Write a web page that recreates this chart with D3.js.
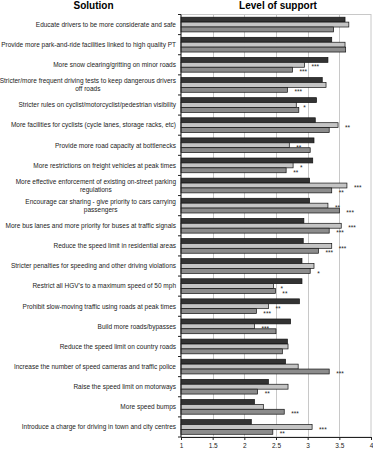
<!DOCTYPE html>
<html>
<head>
<meta charset="utf-8">
<script src="https://cdn.jsdelivr.net/npm/d3@7"></script>
<style>
  html, body { margin: 0; padding: 0; background: #fff; }
  svg { display: block; font-family: "Liberation Sans", Arial, sans-serif; }
</style>
</head>
<body>
<svg id="chart" width="373" height="455"></svg>
<script>
const categories = [
  "Educate drivers to be more considerate and safe",
  "Provide more park-and-ride facilities linked to high quality PT",
  "More snow clearing/gritting on minor roads",
  "Stricter/more frequent driving tests to keep dangerous drivers\noff roads",
  "Stricter rules on cyclist/motorcyclist/pedestrian visibility",
  "More facilities for cyclists (cycle lanes, storage racks, etc)",
  "Provide more road capacity at bottlenecks",
  "More restrictions on freight vehicles at peak times",
  "More effective enforcement of existing on-street parking\nregulations",
  "Encourage car sharing - give priority to cars carrying\npassengers",
  "More bus lanes and more priority for buses at traffic signals",
  "Reduce the speed limit in residential areas",
  "Stricter penalties for speeding and other driving violations",
  "Restrict all HGV's to a maximum speed of 50 mph",
  "Prohibit slow-moving traffic using roads at peak times",
  "Build more roads/bypasses",
  "Reduce the speed limit on country roads",
  "Increase the number of speed cameras and traffic police",
  "Raise the speed limit on motorways",
  "More speed bumps",
  "Introduce a charge for driving in town and city centres"
];
const seriesNames = ["s1", "s2", "s3"];
const s1Values = [3.59,3.38,3.32,3.23,3.14,3.12,3.10,3.08,3.03,3.03,2.94,2.93,2.91,2.91,2.87,2.73,2.68,2.65,2.38,2.16,2.11];
const s2Values = [3.65,3.59,2.95,3.29,2.82,3.48,2.71,2.77,3.62,3.32,3.53,3.38,3.10,2.46,2.38,2.16,2.69,2.85,2.69,2.30,3.07];
const s3Values = [3.41,3.60,2.76,2.68,2.86,3.34,3.04,2.66,3.38,3.50,3.34,3.17,3.04,2.49,2.19,2.50,2.60,3.34,2.21,2.63,2.45];
const s2Stars = ["","","***","","*","**","**","*","***","**","***","***","","*","**","***","","","","","***"];
const s3Stars = ["","","***","***","","","","**","**","***","***","***","*","**","***","","","***","**","***","**"];
const xTicks = [1, 1.5, 2, 2.5, 3, 3.5, 4];
const titleLeft = "Solution";
const titleRight = "Level of support";

const svg = d3.select("#chart");
const plot = { left: 181, right: 371, top: 14.5, bottom: 437 };
const colors = { s1: "#333333", s2: "#c4c4c4", s3: "#8c8c8c" };

const x = d3.scaleLinear().domain([1, 4]).range([plot.left, plot.right]);
const y0 = d3.scaleBand().domain(categories).range([plot.top, plot.bottom]).padding(0);
const y1 = d3.scaleBand().domain(seriesNames).range([0, y0.bandwidth()]).paddingInner(0).paddingOuter(0.55);

const valuesBy = { s1: s1Values, s2: s2Values, s3: s3Values };
const starsBy = { s2: s2Stars, s3: s3Stars };

// titles
svg.append("text").attr("x", 93.5).attr("y", 8.8).attr("text-anchor", "middle")
  .attr("font-size", 10).attr("font-weight", "bold").text(titleLeft);
svg.append("text").attr("x", 278).attr("y", 8.8).attr("text-anchor", "middle")
  .attr("font-size", 10).attr("font-weight", "bold").text(titleRight);

// plot frame and gridlines
svg.append("rect").attr("x", plot.left).attr("y", plot.top)
  .attr("width", plot.right - plot.left).attr("height", plot.bottom - plot.top)
  .attr("fill", "none").attr("stroke", "#c8c8c8").attr("stroke-width", 1);
svg.append("g").selectAll("line").data(xTicks.slice(1, -1)).join("line")
  .attr("x1", d => Math.round(x(d)) + 0.5).attr("x2", d => Math.round(x(d)) + 0.5)
  .attr("y1", plot.top).attr("y2", plot.bottom)
  .attr("stroke", "#c8c8c8").attr("stroke-width", 1);

// bars
const groups = svg.append("g").selectAll("g").data(categories).join("g")
  .attr("transform", d => `translate(0,${y0(d)})`);
seriesNames.forEach(s => {
  groups.append("rect")
    .attr("x", x(1))
    .attr("y", y1(s))
    .attr("width", (d, i) => x(valuesBy[s][i]) - x(1))
    .attr("height", y1.bandwidth())
    .attr("fill", colors[s])
    .attr("stroke", "#111")
    .attr("stroke-width", 0.7);
});
// significance stars
["s2", "s3"].forEach(s => {
  groups.append("text")
    .attr("x", (d, i) => x(valuesBy[s][i]) + 7)
    .attr("y", y1(s) + y1.bandwidth() + 2.2)
    .attr("font-size", 6.5)
    .attr("fill", "#222")
    .text((d, i) => starsBy[s][i]);
});

// left axis (category boundaries)
const leftAxis = svg.append("g");
leftAxis.append("line").attr("x1", plot.left).attr("x2", plot.left)
  .attr("y1", plot.top).attr("y2", plot.bottom).attr("stroke", "#222").attr("stroke-width", 1);
const boundaries = categories.map(c => y0(c)).concat([plot.bottom]);
leftAxis.selectAll("line.tk").data(boundaries).join("line").attr("class", "tk")
  .attr("x1", plot.left - 3).attr("x2", plot.left)
  .attr("y1", d => d).attr("y2", d => d)
  .attr("stroke", "#222").attr("stroke-width", 1);

// bottom axis
const xAxis = d3.axisBottom(x).tickValues(xTicks).tickSize(3).tickPadding(3)
  .tickFormat(d3.format("~g"));
const gx = svg.append("g").attr("transform", `translate(0,${plot.bottom})`).call(xAxis);
gx.select(".domain").attr("stroke", "#222");
gx.selectAll(".tick line").attr("stroke", "#222");
gx.selectAll(".tick text").attr("font-size", 6.5).attr("fill", "#222")
  .attr("font-family", "'Liberation Sans', Arial, sans-serif");

// category labels
const labelRight = 176;
categories.forEach(c => {
  const lines = c.split("\n");
  const cy = y0(c) + y0.bandwidth() / 2;
  const lh = 8;
  const g = svg.append("g");
  const texts = lines.map((ln, k) => g.append("text")
    .attr("font-size", 6.5).attr("fill", "#222")
    .attr("y", cy + (k - (lines.length - 1) / 2) * lh + 2.3)
    .text(ln));
  if (lines.length === 1) {
    texts[0].attr("x", labelRight).attr("text-anchor", "end");
  } else {
    const w = d3.max(texts, t => t.node().getComputedTextLength());
    texts.forEach(t => t.attr("x", labelRight - w / 2).attr("text-anchor", "middle"));
  }
});
</script>
</body>
</html>
